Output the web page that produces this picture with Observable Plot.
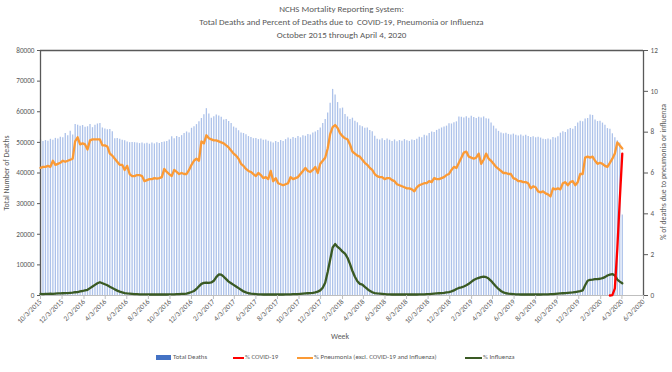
<!DOCTYPE html>
<html><head><meta charset="utf-8">
<script src="https://cdn.jsdelivr.net/npm/d3@7"></script>
<script src="https://cdn.jsdelivr.net/npm/@observablehq/plot@0.6"></script>
<style>
html,body{margin:0;padding:0;background:#fff;}
#wrap{position:relative;width:672px;height:372px;overflow:hidden;font-family:Carlito,Calibri,Lato,"Open Sans",sans-serif;color:#595959;}
#wrap svg{position:absolute;left:0;top:0;}
.t{position:absolute;left:0;width:683px;text-align:center;font-size:9px;line-height:1;white-space:nowrap;}
.ab{position:absolute;white-space:nowrap;line-height:1;}
.rot{transform:translate(-50%,-50%) rotate(-90deg);font-size:7.8px;}
.leg{position:absolute;top:354px;font-size:6.8px;line-height:1;white-space:nowrap;}
.sw{position:absolute;}
</style></head><body><div id="wrap"></div>
<script>
// ---- data ----
const firstWeekEnding = "2015-10-03"; // weekly, through 2020-04-04
const totalDeaths = [
50800,50300,50600,50400,51000,50700,51300,51100,51700,51500,
52900,52200,53600,52400,55800,55600,55300,55500,54900,55100,
55800,54800,55600,56000,56200,54700,54400,54100,54200,53500,
51200,51300,51000,50700,50500,50100,49900,50000,49900,49800,
49600,49800,49500,49700,49400,49800,49500,49900,49600,50000,
50100,50300,50800,51800,51200,51900,51600,52200,52900,53400,
53100,54600,55100,55800,56700,57800,59000,61000,59300,57900,
58400,58900,58600,58200,57300,57500,56800,56200,55000,54600,
53800,53100,52900,52500,51900,51600,51200,51300,50900,51100,
50700,50800,50400,50100,49800,50300,50000,50600,50300,50900,
51400,51000,51600,51300,51900,51500,52200,52000,52600,52400,
53100,53400,53900,54700,56200,57500,59600,62800,67300,65500,
63000,61000,61200,59100,58300,57500,57900,56900,56400,55400,
55100,54600,54700,53900,53500,52000,51000,50800,51200,50600,
51100,50700,50300,50800,50200,50600,50400,50900,50500,50300,
50800,50600,51000,51700,51500,52300,52100,52900,53400,53200,
53900,54300,54700,55000,55300,56100,56000,56400,56700,58300,
58200,58000,58400,57900,58500,58100,57800,58200,58000,58300,
57700,57600,56300,55300,54400,53600,53100,52800,53000,52600,
52400,52700,52300,52100,52400,52000,52300,51900,51600,51800,
51500,51700,51400,51000,50900,51100,50800,51600,51400,51800,
53000,53500,53200,54100,54500,54300,55200,56300,56900,56700,
57600,57800,58900,58800,57300,56800,56900,56300,55600,54500,
54300,52800,51500,50500,49800,26300];
const pneumoniaPct = [
6.25,6.3,6.3,6.35,6.3,6.6,6.4,6.45,6.5,6.6,
6.55,6.6,6.65,6.7,7.55,7.75,7.4,7.45,7.4,7.15,
7.6,7.65,7.65,7.65,7.65,7.35,7.35,7.3,6.95,6.85,
6.7,6.55,6.4,6.4,6.15,6.35,5.95,5.85,5.85,5.9,
5.9,5.85,5.6,5.65,5.7,5.7,5.75,5.72,5.75,5.8,
6.2,6.05,5.95,5.85,6.15,6.05,5.95,6.0,5.95,5.95,
6.15,6.4,6.6,6.7,6.6,7.55,7.45,7.85,7.7,7.65,
7.6,7.6,7.55,7.5,7.45,7.35,7.25,7.1,6.95,6.85,
6.7,6.45,6.35,6.2,6.1,6.05,5.95,5.85,6.0,5.9,
5.75,5.8,5.7,6.1,5.6,5.75,5.5,5.45,5.4,5.45,
5.5,5.8,5.7,5.75,5.8,5.95,6.1,6.25,6.1,6.05,
6.15,6.3,6.0,6.45,6.6,6.75,7.2,7.9,8.25,8.35,
8.2,7.95,7.8,7.7,7.65,7.4,7.05,6.95,6.85,6.8,
6.65,6.5,6.4,6.25,6.15,5.95,5.85,5.8,5.8,5.7,
5.75,5.75,5.65,5.6,5.45,5.4,5.35,5.3,5.25,5.25,
5.2,5.1,5.3,5.4,5.45,5.5,5.5,5.6,5.55,5.75,
5.7,5.7,5.75,5.8,5.9,5.95,6.15,6.3,6.25,6.5,
6.75,7.0,7.05,6.8,6.75,6.7,6.75,6.95,6.45,6.65,
6.95,6.7,6.6,6.45,6.3,6.2,6.1,6.0,6.0,5.95,
5.95,5.75,5.7,5.6,5.6,5.55,5.55,5.5,5.25,5.35,
5.3,5.1,5.05,5.1,5.0,4.95,4.85,5.25,5.2,5.25,
5.2,5.5,5.55,5.4,5.55,5.6,5.4,5.55,5.95,5.95,
6.75,6.8,6.75,6.8,6.6,6.45,6.5,6.45,6.35,6.3,
6.5,6.7,6.95,7.5,7.35,7.2];
const influenzaPct = [
0.08,0.07,0.08,0.08,0.09,0.08,0.09,0.1,0.1,0.11,
0.12,0.12,0.13,0.14,0.16,0.17,0.2,0.22,0.25,0.28,
0.36,0.44,0.52,0.6,0.65,0.6,0.55,0.5,0.43,0.37,
0.3,0.24,0.19,0.15,0.12,0.1,0.09,0.08,0.07,0.07,
0.06,0.06,0.06,0.06,0.05,0.05,0.05,0.05,0.05,0.05,
0.05,0.05,0.06,0.06,0.06,0.07,0.07,0.08,0.08,0.09,
0.13,0.17,0.22,0.32,0.45,0.57,0.62,0.63,0.62,0.64,
0.72,0.9,1.03,1.02,0.92,0.8,0.68,0.6,0.52,0.44,
0.36,0.28,0.2,0.15,0.11,0.09,0.08,0.07,0.06,0.06,
0.05,0.05,0.05,0.05,0.05,0.05,0.05,0.05,0.05,0.06,
0.06,0.06,0.07,0.07,0.07,0.08,0.09,0.1,0.11,0.12,
0.13,0.15,0.19,0.25,0.38,0.62,1.15,1.75,2.35,2.52,
2.38,2.28,2.15,2.05,1.85,1.55,1.2,0.92,0.7,0.57,
0.53,0.42,0.32,0.23,0.16,0.12,0.1,0.09,0.08,0.07,
0.06,0.06,0.05,0.05,0.05,0.05,0.05,0.05,0.05,0.05,
0.05,0.05,0.05,0.06,0.06,0.06,0.07,0.07,0.08,0.09,
0.1,0.11,0.12,0.13,0.15,0.17,0.2,0.25,0.32,0.37,
0.4,0.44,0.5,0.57,0.67,0.76,0.82,0.86,0.9,0.92,
0.9,0.83,0.72,0.58,0.44,0.32,0.22,0.15,0.11,0.09,
0.08,0.07,0.06,0.06,0.05,0.05,0.05,0.05,0.05,0.05,
0.05,0.05,0.05,0.06,0.06,0.06,0.07,0.07,0.08,0.09,
0.1,0.11,0.12,0.13,0.14,0.15,0.17,0.19,0.21,0.25,
0.5,0.72,0.77,0.78,0.8,0.8,0.82,0.85,0.9,0.98,
1.02,1.05,0.98,0.78,0.68,0.6];
const covidWeeks = ["2020-02-29","2020-03-07","2020-03-14","2020-03-21","2020-03-28","2020-04-04"];
const covidPct = [0,0.02,0.35,2.3,4.7,6.95];
const xTickLabels = ["10/3/2015","12/3/2015","2/3/2016","4/3/2016","6/3/2016","8/3/2016","10/3/2016","12/3/2016",
"2/3/2017","4/3/2017","6/3/2017","8/3/2017","10/3/2017","12/3/2017","2/3/2018","4/3/2018","6/3/2018","8/3/2018",
"10/3/2018","12/3/2018","2/3/2019","4/3/2019","6/3/2019","8/3/2019","10/3/2019","12/3/2019","2/3/2020","4/3/2020","6/3/2020"];
const deathTicks = [0,10000,20000,30000,40000,50000,60000,70000,80000];
const pctTicks = [0,2,4,6,8,10,12];

// ---- build ----
const parseTick = d3.utcParse("%m/%d/%Y");
const xTicks = xTickLabels.map(parseTick);
const fmtTick = d => `${d.getUTCMonth()+1}/${d.getUTCDate()}/${d.getUTCFullYear()}`;
const start = d3.utcParse("%Y-%m-%d")(firstWeekEnding);
const weeks = totalDeaths.map((v, i) => ({
  date: d3.utcDay.offset(start, 7 * i),
  deaths: v, pneu: pneumoniaPct[i], flu: influenzaPct[i]
}));
const covid = covidWeeks.map((w, i) => ({date: d3.utcParse("%Y-%m-%d")(w), pct: covidPct[i]}));
const K = 80000 / 12;
const xDomain = [xTicks[0], xTicks[xTicks.length - 1]];

const chart = Plot.plot({
  width: 672, height: 372,
  marginTop: 50, marginLeft: 40, marginRight: 29, marginBottom: 77,
  style: {fontFamily: 'Carlito, Calibri, Lato, "Open Sans", sans-serif', fontSize: "7.2px", color: "#595959", background: "transparent"},
  x: {type: "utc", domain: xDomain, axis: null},
  y: {domain: [0, 80000], axis: null},
  marks: [
    Plot.ruleX(weeks, {x: "date", y1: 0, y2: "deaths", stroke: "#adc2ea", strokeWidth: 1.3}),
    Plot.ruleY([0], {stroke: "#bfbfbf", strokeWidth: 1}),
    Plot.ruleY([80000], {stroke: "#595959", strokeWidth: 1.3}),
    Plot.ruleX([xDomain[0]], {stroke: "#595959", strokeWidth: 1.3}),
    Plot.ruleX([xDomain[1]], {stroke: "#595959", strokeWidth: 1.3}),
    Plot.lineY(weeks, {x: "date", y: d => d.flu * K, stroke: "#3a5a24", strokeWidth: 2.3}),
    Plot.lineY(weeks, {x: "date", y: d => d.pneu * K, stroke: "#fb9a35", strokeWidth: 2.3}),
    Plot.lineY(covid, {x: "date", y: d => d.pct * K, stroke: "#ff0000", strokeWidth: 2.3}),
    Plot.axisY(deathTicks, {anchor: "left", tickSize: 3, tickPadding: 3, tickFormat: d => String(d), label: null, stroke: "#595959"}),
    Plot.axisY(pctTicks.map(p => p * K), {anchor: "right", tickSize: 4, tickPadding: 3, tickFormat: d => String(Math.round(d / K)), label: null, stroke: "#595959"}),
    Plot.axisX(xTicks, {anchor: "bottom", tickSize: 4, tickPadding: 1, tickRotate: -45, tickFormat: fmtTick, label: null, stroke: "#bfbfbf", fill: "#595959"})
  ]
});

const wrap = document.getElementById("wrap");
wrap.appendChild(chart);
function add(html, cls, style) {
  const d = document.createElement("div");
  d.className = cls; d.setAttribute("style", style || ""); d.innerHTML = html;
  wrap.appendChild(d); return d;
}
add("NCHS Mortality Reporting System:", "t", "top:4px;");
add("Total Deaths and Percent of Deaths due to &nbsp;COVID-19, Pneumonia or Influenza", "t", "top:17px;");
add("October 2015 through April 4, 2020", "t", "top:30px;");
add("Total Number of Deaths", "ab rot", "left:7px;top:173px;");
add("% of deaths due to pneumonia or influenza", "ab rot", "left:664px;top:172px;");
add("Week", "ab", "left:331px;top:333px;font-size:7.8px;");
// legend
add("", "sw", "left:156px;top:355px;width:15px;height:5px;background:#4472c4;");
add("Total Deaths", "leg", "left:173px;");
add("", "sw", "left:233px;top:357px;width:11px;height:2px;background:#ff0000;");
add("% COVID-19", "leg", "left:245px;");
add("", "sw", "left:297px;top:357px;width:16px;height:2px;background:#fb9a35;");
add("% Pneumonia (excl. COVID-19 and Influenza)", "leg", "left:314px;");
add("", "sw", "left:465px;top:357px;width:17px;height:2px;background:#3a5a24;");
add("% Influenza", "leg", "left:483px;");
</script></body></html>
